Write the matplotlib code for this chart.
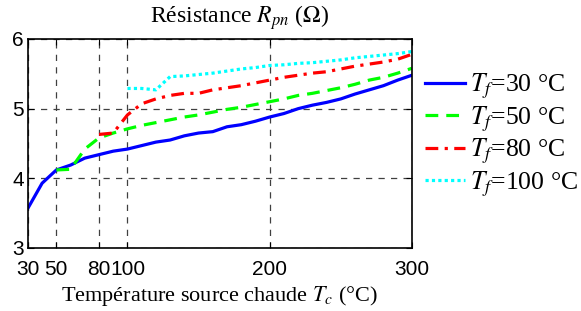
import matplotlib
matplotlib.use("Agg")
import matplotlib.pyplot as plt

# source temperature (degC) and Rpn (ohm) for each cold side temperature
tc_30 = list(range(30, 301, 10))
r_30 = [3.57, 3.93, 4.12, 4.19, 4.29, 4.34, 4.39, 4.42, 4.47, 4.52,
        4.55, 4.61, 4.65, 4.67, 4.74, 4.77, 4.82, 4.88, 4.93, 5.00,
        5.05, 5.09, 5.14, 5.21, 5.27, 5.33, 5.41, 5.48]

tc_50 = list(range(50, 301, 10))
r_50 = [4.12, 4.13, 4.42, 4.58, 4.65, 4.71, 4.76, 4.80, 4.84, 4.88,
        4.91, 4.95, 4.99, 5.02, 5.06, 5.10, 5.14, 5.19, 5.22, 5.26,
        5.30, 5.35, 5.41, 5.45, 5.51, 5.58]

tc_80 = list(range(80, 301, 10))
r_80 = [4.63, 4.65, 4.91, 5.07, 5.14, 5.19, 5.22, 5.22, 5.27, 5.30,
        5.33, 5.37, 5.41, 5.45, 5.48, 5.51, 5.53, 5.57, 5.61, 5.64,
        5.67, 5.71, 5.78]

tc_100 = list(range(100, 301, 10))
r_100 = [5.29, 5.29, 5.27, 5.46, 5.47, 5.49, 5.51, 5.54, 5.57, 5.59,
         5.62, 5.63, 5.65, 5.66, 5.68, 5.70, 5.73, 5.75, 5.77, 5.79, 5.82]

xticks = [30, 50, 80, 100, 200, 300]
yticks = [3, 4, 5, 6]

plt.rcParams['mathtext.fontset'] = 'stix'

fig = plt.figure(figsize=(5.81, 3.11), dpi=100)
ax = fig.add_axes([0.048, 0.2026, 0.661, 0.672])

lw = 2.3
ax.plot(tc_30, r_30, color='#0000ff', ls='-', lw=lw, label=r'$T_f$=30 °C')
ax.plot(tc_50, r_50, color='#00ff00', ls=(0, (4, 2.5)), lw=lw, label=r'$T_f$=50 °C')
ax.plot(tc_80, r_80, color='#ff0000', ls=(0, (4, 2, 1, 2)), lw=lw, label=r'$T_f$=80 °C')
ax.plot(tc_100, r_100, color='#00ffff', ls=(0, (1, 1)), lw=lw, label=r'$T_f$=100 °C')

ax.set_xlim(30, 300)
ax.set_ylim(3, 6)
ax.set_xticks(xticks)
ax.set_yticks(yticks)
ax.set_xticklabels([str(t) for t in xticks], family='Liberation Sans', fontsize=15)
ax.set_yticklabels([str(t) for t in yticks], family='Liberation Sans', fontsize=15)
ax.tick_params(direction='in', top=True, right=True, length=4, pad=3)
ax.tick_params(axis='x', pad=9)
ax.grid(True, color='0.25', ls=(0, (5, 5)), lw=0.9)
for s in ax.spines.values():
    s.set_linewidth(1.2)

fig.text(240 / 581, 1 - 18 / 311, r'Résistance $R_{pn}$ ($\Omega$)', family='Liberation Serif',
         fontsize=17, ha='center', va='center')
ax.set_xlabel(r'Température source chaude $T_c$ (°C)', family='Liberation Serif', fontsize=16, labelpad=3)

leg = fig.legend(loc='upper left', bbox_to_anchor=(425 / 581, 1 - 72 / 311), frameon=False,
                 prop={'family': 'Liberation Serif', 'size': 18.5},
                 handlelength=1.55, handletextpad=0.2, labelspacing=0.12,
                 borderpad=0, borderaxespad=0)

fig.savefig('out.png', dpi=100)
